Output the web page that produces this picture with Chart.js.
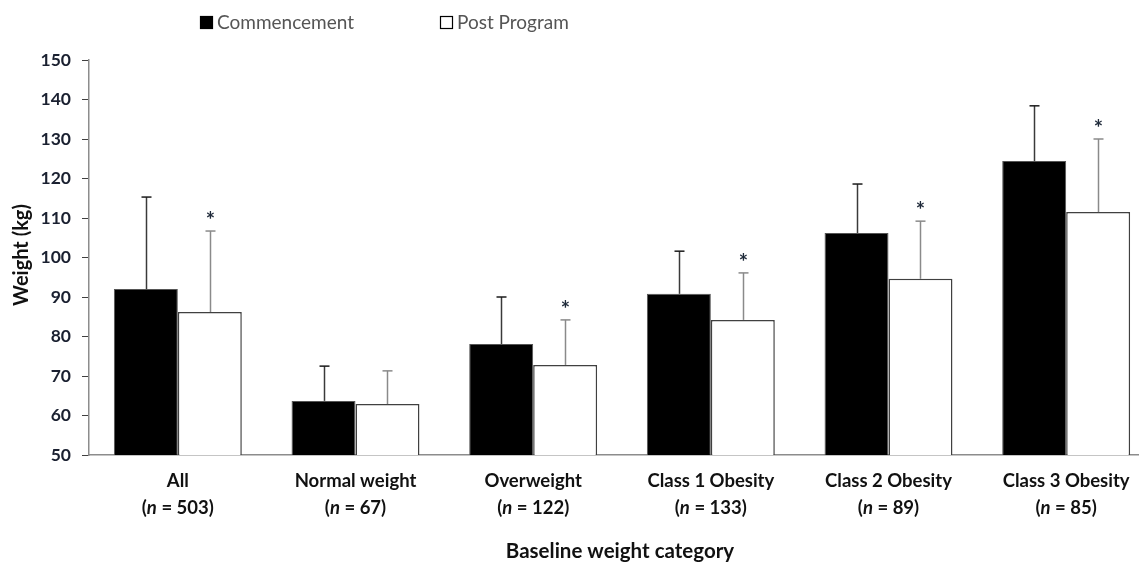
<!DOCTYPE html>
<html>
<head>
<meta charset="utf-8">
<script src="https://cdn.jsdelivr.net/npm/chart.js@4.4.1/dist/chart.umd.min.js"></script>
<style>
  html, body { margin: 0; padding: 0; background: #ffffff; overflow: hidden; }
  #wrap { width: 1155px; height: 563px; position: relative; }
</style>
</head>
<body>
<div id="wrap"><canvas id="chart" width="1155" height="563"></canvas></div>
<script>
// Baseline weight categories and group sizes
const categories = ['All', 'Normal weight', 'Overweight', 'Class 1 Obesity', 'Class 2 Obesity', 'Class 3 Obesity'];
const groupSizes = ['503', '67', '122', '133', '89', '85'];

// Mean weight (kg) at commencement and post program
const commencement = [92.0, 63.7, 78.1, 90.8, 106.2, 124.4];
const postProgram = [86.2, 62.9, 72.8, 84.2, 94.6, 111.5];

// Standard deviations (kg), drawn as upward error bars
const commencementSD = [23.3, 8.8, 11.9, 10.8, 12.4, 14.0];
const postProgramSD = [20.5, 8.4, 11.4, 11.9, 14.6, 18.5];

// Significant change from commencement
const significant = [true, false, true, true, true, true];

// Y axis ticks
const yMin = 50, yMax = 150, yStep = 10;

const FONT = 'Lato, "Open Sans", sans-serif';

const errorBars = {
  id: 'errorBars',
  afterDatasetsDraw(chart) {
    const ctx = chart.ctx;
    const y = chart.scales.y;
    const sets = [
      { idx: 0, sd: commencementSD, color: '#3a3a3a', cap: '#1a1a1a' },
      { idx: 1, sd: postProgramSD, color: '#8a8a8a', cap: '#8a8a8a' }
    ];
    ctx.save();
    sets.forEach(s => {
      const meta = chart.getDatasetMeta(s.idx);
      const vals = chart.data.datasets[s.idx].data;
      meta.data.forEach((bar, i) => {
        const x = Math.round(bar.x) + 0.5;
        const yTop = y.getPixelForValue(vals[i] + s.sd[i]);
        const yBase = y.getPixelForValue(vals[i]);
        ctx.strokeStyle = s.color;
        ctx.lineWidth = 1.5;
        ctx.beginPath();
        ctx.moveTo(x, yBase);
        ctx.lineTo(x, yTop);
        ctx.stroke();
        ctx.strokeStyle = s.cap;
        ctx.beginPath();
        ctx.moveTo(x - 5, yTop);
        ctx.lineTo(x + 5, yTop);
        ctx.stroke();
        if (s.idx === 1 && significant[i]) {
          // significance marker, centred 16px above the cap
          ctx.fillStyle = '#1f2a3a';
          ctx.font = 'bold 22px ' + FONT;
          ctx.textAlign = 'center';
          ctx.textBaseline = 'alphabetic';
          const m = ctx.measureText('*');
          const mid = (m.actualBoundingBoxAscent - m.actualBoundingBoxDescent) / 2;
          ctx.fillText('*', x, yTop - 16 + mid);
        }
      });
    });
    ctx.restore();
  }
};

const textLayer = {
  id: 'textLayer',
  afterDraw(chart) {
    const ctx = chart.ctx;
    const xs = chart.scales.x;
    ctx.save();
    ctx.fillStyle = '#111111';
    ctx.textBaseline = 'middle';
    // Category labels with italic n
    categories.forEach((c, i) => {
      const cx = xs.getPixelForTick(i);
      ctx.font = 'bold 18.5px ' + FONT;
      ctx.textAlign = 'center';
      ctx.fillText(c, cx, 481);
      const parts = [
        { t: '(', f: 'bold 18.5px ' + FONT },
        { t: 'n', f: 'italic bold 18.5px ' + FONT },
        { t: ' = ' + groupSizes[i] + ')', f: 'bold 18.5px ' + FONT }
      ];
      let w = 0;
      parts.forEach(p => { ctx.font = p.f; w += ctx.measureText(p.t).width; });
      let px = cx - w / 2;
      ctx.textAlign = 'left';
      parts.forEach(p => { ctx.font = p.f; ctx.fillText(p.t, px, 508); px += ctx.measureText(p.t).width; });
    });
    // X axis title
    ctx.font = 'bold 20.5px ' + FONT;
    ctx.textAlign = 'center';
    ctx.fillText('Baseline weight category', 620, 551);
    // Y axis title
    ctx.translate(22, 255);
    ctx.rotate(-Math.PI / 2);
    ctx.font = 'bold 20px ' + FONT;
    ctx.fillText('Weight (kg)', 0, 0);
    ctx.restore();

    // Legend
    ctx.save();
    ctx.font = '19px ' + FONT;
    ctx.textBaseline = 'middle';
    ctx.textAlign = 'left';
    const items = [
      { x: 200, fill: '#000000', label: chart.data.datasets[0].label },
      { x: 440, fill: '#ffffff', label: chart.data.datasets[1].label }
    ];
    items.forEach(it => {
      ctx.fillStyle = it.fill;
      ctx.fillRect(it.x, 16, 13, 13);
      ctx.strokeStyle = '#000000';
      ctx.lineWidth = 1.2;
      ctx.strokeRect(it.x + 0.5, 16.5, 12, 12);
      ctx.fillStyle = '#555555';
      ctx.fillText(it.label, it.x + 17, 23);
    });
    ctx.restore();
  }
};

new Chart(document.getElementById('chart'), {
  type: 'bar',
  data: {
    labels: categories,
    datasets: [
      {
        label: 'Commencement',
        data: commencement,
        backgroundColor: '#000000',
        borderColor: '#555555',
        borderWidth: 1
      },
      {
        label: 'Post Program',
        data: postProgram,
        backgroundColor: '#ffffff',
        borderColor: '#404040',
        borderWidth: 1.5
      }
    ]
  },
  options: {
    responsive: false,
    animation: false,
    events: [],
    layout: { padding: { top: 60, right: 0, bottom: 0, left: 0 } },
    datasets: { bar: { barPercentage: 1.0, categoryPercentage: 0.72 } },
    plugins: {
      legend: { display: false },
      tooltip: { enabled: false }
    },
    scales: {
      x: {
        grid: { display: false, drawTicks: false },
        border: { display: true, color: '#8c8c8c', width: 1.5 },
        ticks: { display: false },
        afterFit(scale) { scale.height = 108; }
      },
      y: {
        min: yMin,
        max: yMax,
        grid: { drawOnChartArea: false, drawTicks: true, tickLength: 7, color: '#404040', lineWidth: 1 },
        border: { display: true, color: '#8c8c8c', width: 1.5 },
        ticks: {
          stepSize: yStep,
          padding: 11,
          color: '#1a2030',
          font: { family: FONT, size: 17.5, weight: 'bold' }
        },
        afterFit(scale) { scale.width = 89; }
      }
    }
  },
  plugins: [errorBars, textLayer]
});
</script>
</body>
</html>
